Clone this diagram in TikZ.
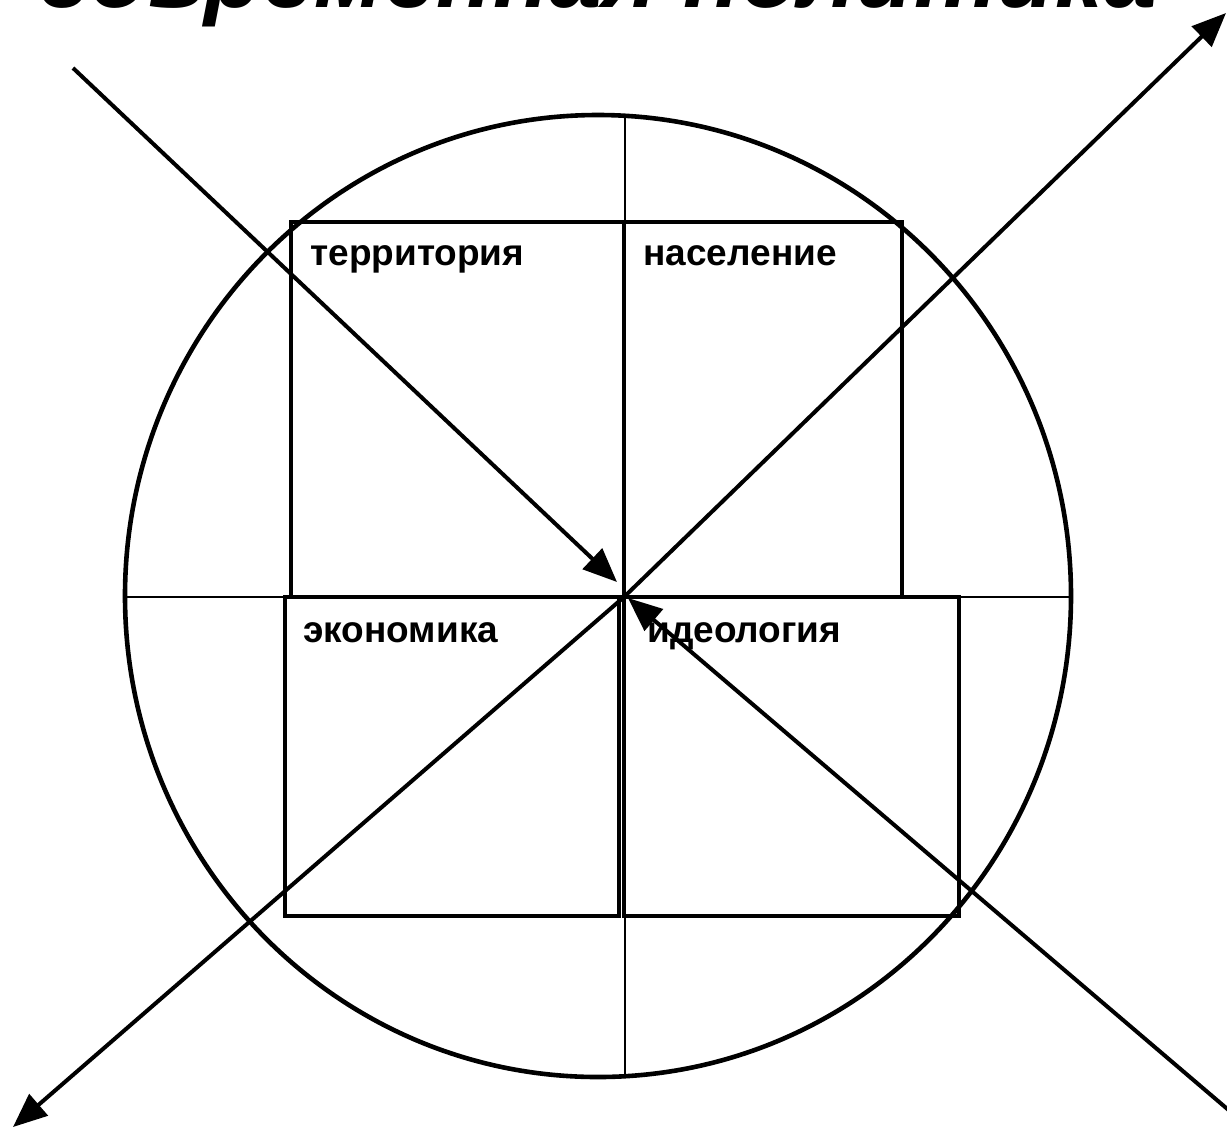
\documentclass[tikz,border=0pt]{standalone}
\usepackage{fontspec}
\setmainfont{Liberation Sans}
\usetikzlibrary{arrows.meta}

\begin{document}
\begin{tikzpicture}[x=0.5pt,y=-0.5pt,
  box/.style={draw,line width=2pt,inner sep=0pt},
  lbl/.style={anchor=base west,inner sep=0pt,font=\fontsize{18.5}{20}\selectfont\bfseries},
  arr/.style={-{Triangle[length=17pt,width=14pt]},line width=2pt},
  thin/.style={line width=0.75pt}]
  \useasboundingbox (0,0) rectangle (1227,1132);
  % title, cut by the page edge
  \node[anchor=base west,inner sep=0pt,font=\fontsize{47}{52}\selectfont\bfseries\itshape]
        (title) at (38,7) {современная политика};
  % state circle and axes
  \draw[line width=2.3pt] (598,596) ellipse [x radius=473, y radius=481];
  \draw[thin] (625,115) -- (625,1077);
  \draw[thin] (124,597) -- (1071,597);
  % four elements
  \node[box,minimum width=166.5pt,minimum height=187.5pt] (terr) at (457.5,409.5) {};
  \node[box,minimum width=139pt,minimum height=187.5pt] (nas) at (763,409.5) {};
  \node[box,minimum width=167pt,minimum height=159.5pt] (econ) at (452,756.5) {};
  \node[box,minimum width=167.5pt,minimum height=159.5pt] (ideo) at (791.5,756.5) {};
  \node[lbl] (terrl) at (310,265) {территория};
  \node[lbl] (nasl) at (643,265) {население};
  \node[lbl] (econl) at (303,642) {экономика};
  \node[lbl] (ideol) at (647,642) {идеология};
  % flows
  \coordinate (c) at (624,597);
  \coordinate (inNW) at (73,68);
  \coordinate (tipNW) at (617,582);
  \coordinate (outNE) at (1226,13);
  \coordinate (outSW) at (13,1127);
  \coordinate (inSE) at (1245,1124);
  \coordinate (tipSE) at (628,598);
  \draw[arr] (inNW) -- (tipNW);
  \draw[arr] (c) -- (outNE);
  \draw[arr] (c) -- (outSW);
  \draw[arr] (inSE) -- (tipSE);
\end{tikzpicture}
\end{document}
